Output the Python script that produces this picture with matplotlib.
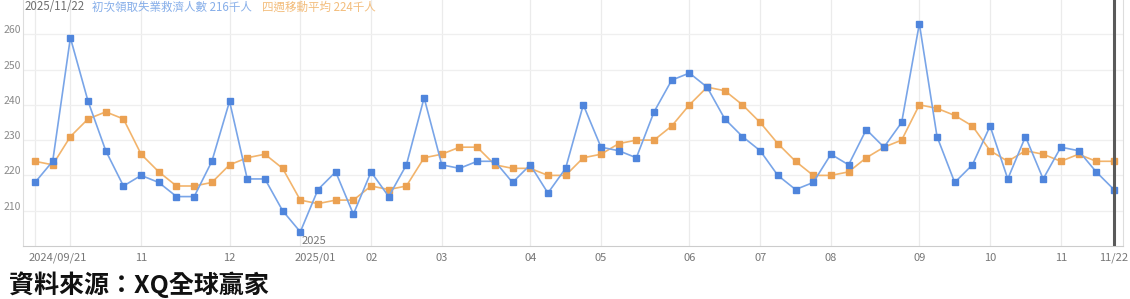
import matplotlib
matplotlib.use('Agg')
import matplotlib.pyplot as plt
import matplotlib.dates as mdates
import matplotlib.transforms as mtransforms
import pandas as pd

plt.rcParams['font.family'] = ['Noto Sans CJK TC', 'DejaVu Sans']

# Dados semanais (milhares de pessoas)
semanas = pd.date_range('2024-09-21', periods=62, freq='7D')
pedidos = [218, 224, 259, 241, 227, 217, 220, 218, 214, 214,
           224, 241, 219, 219, 210, 204, 216, 221, 209, 221,
           214, 223, 242, 223, 222, 224, 224, 218, 223, 215,
           222, 240, 228, 227, 225, 238, 247, 249, 245, 236,
           231, 227, 220, 216, 218, 226, 223, 233, 228, 235,
           263, 231, 218, 223, 234, 219, 231, 219, 228, 227,
           221, 216]
media4 = [224, 223, 231, 236, 238, 236, 226, 221, 217, 217,
          218, 223, 225, 226, 222, 213, 212, 213, 213, 217,
          216, 217, 225, 226, 228, 228, 223, 222, 222, 220,
          220, 225, 226, 229, 230, 230, 234, 240, 245, 244,
          240, 235, 229, 224, 220, 220, 221, 225, 228, 230,
          240, 239, 237, 234, 227, 224, 227, 226, 224, 226,
          224, 224]

# Rótulos do eixo x (o último vai alinhado à direita)
rotulos = {'2024-09-21': '2024/09/21', '2024-11-02': '11', '2024-12-07': '12',
           '2025-01-04': '2025/01', '2025-02-01': '02', '2025-03-01': '03',
           '2025-04-05': '04', '2025-05-03': '05', '2025-06-07': '06',
           '2025-07-05': '07', '2025-08-02': '08', '2025-09-06': '09',
           '2025-10-04': '10', '2025-11-01': '11'}
rotulo_final = '11/22'
y_ticks = [210, 220, 230, 240, 250, 260]

azul_linha = '#79a5e8'
azul_marca = '#4f85dc'
laranja_linha = '#f2b46c'
laranja_marca = '#eba152'

fig = plt.figure(figsize=(11.3, 2.99), dpi=100)
ax = fig.add_axes([23 / 1130, 1 - 246 / 299, 1100 / 1130, 246 / 299])

x = mdates.date2num(semanas)
ax.set_xlim(x[0] - 4.75, x[-1] + 3.6)
ax.set_ylim(200, 269.7)

# Grade vertical na primeira semana de cada mês
inicio_mes = [x[0]] + [x[i] for i in range(1, len(semanas))
                       if semanas[i].month != semanas[i - 1].month]
for xv in inicio_mes:
    ax.axvline(xv, color='#ebebeb', lw=0.9, zorder=0)
for yv in y_ticks:
    ax.axhline(yv, color='#efefef', lw=0.9, zorder=0)

ax.plot(x, pedidos, color=azul_linha, lw=1.2, marker='s', markersize=4,
        markerfacecolor=azul_marca, markeredgecolor=azul_marca, zorder=3)
ax.plot(x, media4, color=laranja_linha, lw=1.2, marker='s', markersize=4,
        markerfacecolor=laranja_marca, markeredgecolor=laranja_marca, zorder=2)

# Linha do cursor na última semana
ax.axvline(x[-1], color='#5a5a5a', lw=2.2, zorder=4)

ax.set_xticks([])
ax.set_yticks([])
ax.spines['top'].set_visible(False)
ax.spines['left'].set_color('#dddddd')
ax.spines['right'].set_color('#dddddd')
ax.spines['bottom'].set_color('#cccccc')

# Rótulos do eixo y
trans_y = mtransforms.blended_transform_factory(fig.transFigure, ax.transData) + \
    mtransforms.ScaledTranslation(0, 4 / 100, fig.dpi_scale_trans)
for yv in y_ticks:
    ax.text(4 / 1130, yv, str(yv), transform=trans_y, ha='left', va='center',
            fontsize=7.5, color='#8a8a8a')

# Rótulos do eixo x
trans_x = mtransforms.blended_transform_factory(ax.transData, ax.transAxes) + \
    mtransforms.ScaledTranslation(-6 / 100, 0, fig.dpi_scale_trans)
for data, txt in rotulos.items():
    xv = mdates.date2num(pd.Timestamp(data))
    ax.text(xv, -12 / 246, txt, transform=trans_x, ha='left', va='center',
            fontsize=8, color='#777777', clip_on=False)
fig.text(1128 / 1130, 1 - 258 / 299, rotulo_final, ha='right', va='center',
         fontsize=8, color='#777777')

ax.text(mdates.date2num(pd.Timestamp('2025-01-04')) + 0.3, 201.5, '2025',
        ha='left', va='center', fontsize=8, color='#777777')

# Título
fig.text(25 / 1130, 1 - 7 / 299, '2025/11/22', ha='left', va='center',
         fontsize=8.3, color='#707070')
fig.text(92 / 1130, 1 - 7 / 299, '初次領取失業救濟人數 216千人', ha='left', va='center',
         fontsize=8.3, color='#86aee9')
fig.text(262 / 1130, 1 - 7 / 299, '四週移動平均 224千人', ha='left', va='center',
         fontsize=8.3, color='#f3bd7c')

# Fonte
fig.text(9 / 1130, 1 / 299, '資料來源：XQ全球贏家', ha='left', va='bottom',
         fontsize=18, fontweight='bold', color='#111111')

fig.savefig('out.png', dpi=100)
